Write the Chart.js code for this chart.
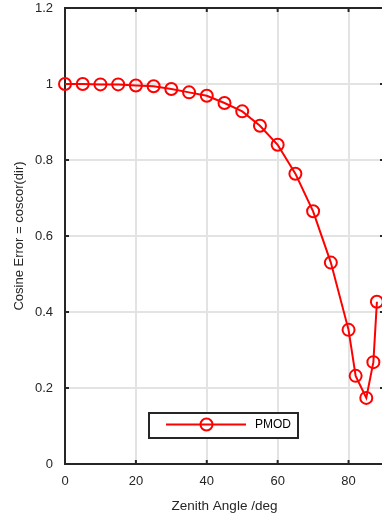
<!DOCTYPE html>
<html>
<head>
<meta charset="utf-8">
<script src="https://cdn.jsdelivr.net/npm/chart.js@4/dist/chart.umd.min.js"></script>
<style>
  html, body { margin: 0; padding: 0; background: #fff; overflow: hidden; }
  #grafico { display: block; }
</style>
</head>
<body>
<canvas id="grafico" width="400" height="518"></canvas>
<script>
// Ângulo zenital (graus) e erro de cosseno medido
const angulos = [0, 5, 10, 15, 20, 25, 30, 35, 40, 45, 50, 55, 60, 65, 70, 75, 80, 82, 85, 87, 88];
const erroCosseno = [1.0, 1.0, 0.999, 0.999, 0.996, 0.994, 0.987, 0.978, 0.969, 0.95, 0.928, 0.89, 0.84,
  0.764, 0.665, 0.53, 0.353, 0.232, 0.174, 0.268, 0.427];
const ticksX = [0, 20, 40, 60, 80];
const ticksY = [0, 0.2, 0.4, 0.6, 0.8, 1, 1.2];

const corTexto = '#262626';
const fonte = 'Liberation Sans, Arial, Helvetica, sans-serif';

// Moldura com marcas internas (estilo MATLAB) e legenda dentro do gráfico
const molduraPlugin = {
  id: 'moldura',
  beforeDatasetsDraw(chart) {
    const { ctx, chartArea: a, scales } = chart;
    ctx.save();
    ctx.strokeStyle = corTexto;
    ctx.lineWidth = 2;
    ctx.strokeRect(a.left, a.top, a.right - a.left, a.bottom - a.top);
    ticksX.forEach(v => {
      const x = scales.x.getPixelForValue(v);
      ctx.beginPath();
      ctx.moveTo(x, a.bottom); ctx.lineTo(x, a.bottom - 4);
      ctx.moveTo(x, a.top); ctx.lineTo(x, a.top + 4);
      ctx.stroke();
    });
    ticksY.forEach(v => {
      const y = scales.y.getPixelForValue(v);
      ctx.beginPath();
      ctx.moveTo(a.left, y); ctx.lineTo(a.left + 4, y);
      ctx.moveTo(a.right, y); ctx.lineTo(a.right - 4, y);
      ctx.stroke();
    });
    ctx.restore();
  },
  afterDatasetsDraw(chart) {
    const { ctx } = chart;
    const ds = chart.data.datasets[0];
    ctx.save();
    ctx.fillStyle = '#fff';
    ctx.fillRect(149, 413, 149, 25);
    ctx.strokeStyle = corTexto;
    ctx.lineWidth = 2;
    ctx.strokeRect(149, 413, 149, 25);
    ctx.strokeStyle = ds.borderColor;
    ctx.beginPath();
    ctx.moveTo(166, 424.5); ctx.lineTo(246, 424.5);
    ctx.stroke();
    ctx.beginPath();
    ctx.arc(206.5, 424.5, 6, 0, Math.PI * 2);
    ctx.stroke();
    ctx.fillStyle = '#000';
    ctx.font = '12px ' + fonte;
    ctx.textBaseline = 'middle';
    ctx.fillText(ds.label, 255, 425);
    ctx.restore();
  }
};

const ctx = document.getElementById('grafico').getContext('2d');

const grafico = new Chart(ctx, {
  type: 'line',
  data: {
    datasets: [{
      label: 'PMOD',
      data: angulos.map((a, i) => ({ x: a, y: erroCosseno[i] })),
      borderColor: '#ff0000',
      backgroundColor: 'rgba(0,0,0,0)',
      borderWidth: 2,
      pointRadius: 6,
      pointBorderWidth: 2,
      pointBackgroundColor: 'rgba(0,0,0,0)',
      tension: 0
    }]
  },
  options: {
    responsive: false,
    animation: false,
    clip: false,
    layout: { padding: { left: 0, top: 6, right: 16, bottom: 0 } },
    plugins: { legend: { display: false }, tooltip: { enabled: false } },
    scales: {
      x: {
        type: 'linear',
        min: 0,
        max: 90,
        afterBuildTicks: s => { s.ticks = ticksX.map(v => ({ value: v })); },
        afterFit: s => { s.height = 54; s.paddingLeft = 0; s.paddingRight = 0; },
        border: { display: false },
        grid: { color: '#e3e3e3', lineWidth: 2, drawTicks: false },
        ticks: { color: corTexto, font: { family: fonte, size: 13 }, padding: 10, maxRotation: 0 },
        title: { display: true, text: 'Zenith Angle /deg', color: corTexto, font: { family: fonte, size: 13.5 }, padding: { top: 2 } }
      },
      y: {
        min: 0,
        max: 1.2,
        afterBuildTicks: s => { s.ticks = ticksY.map(v => ({ value: v })); },
        afterFit: s => { s.width = 65; s.paddingTop = 0; s.paddingBottom = 0; },
        border: { display: false },
        grid: { color: '#e3e3e3', lineWidth: 2, drawTicks: false },
        ticks: { color: corTexto, font: { family: fonte, size: 13 }, padding: 12, callback: v => String(v) },
        title: { display: true, text: 'Cosine Error = coscor(dir)', color: corTexto, font: { family: fonte, size: 13 }, padding: { top: 12 } }
      }
    }
  },
  plugins: [molduraPlugin]
});
</script>
</body>
</html>
